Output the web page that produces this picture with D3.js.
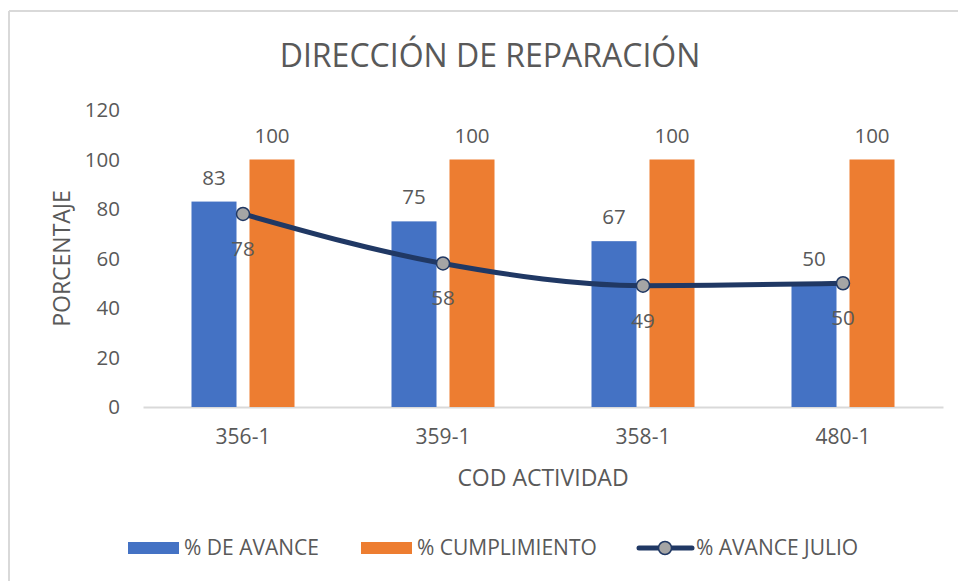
<!DOCTYPE html>
<html lang="es">
<head>
<meta charset="UTF-8">
<title>Dirección de Reparación</title>
<script src="https://d3js.org/d3.v7.min.js"></script>
<style>
  body { margin: 0; background: #fff; }
  text { font-family: "Open Sans", "Liberation Sans", sans-serif; fill: #595959; }
</style>
</head>
<body>
<div id="chart"></div>
<script>
// data
const categories = ["356-1", "359-1", "358-1", "480-1"];
const avance = [83, 75, 67, 50];
const cumplimiento = [100, 100, 100, 100];
const avanceJulio = [78, 58, 49, 50];
const yTicks = [0, 20, 40, 60, 80, 100, 120];
const seriesNames = ["% DE AVANCE", "% CUMPLIMIENTO", "% AVANCE JULIO"];

const width = 958, height = 581;
const margin = {left: 143, right: 15, top: 110, bottom: 174};
const numSize = 20.5;

const svg = d3.select("#chart").append("svg")
    .attr("width", width)
    .attr("height", height);

// chart frame (only top and left edges visible in the crop)
svg.append("line").attr("x1", 9).attr("x2", width).attr("y1", 11).attr("y2", 11)
    .attr("stroke", "#d9d9d9").attr("stroke-width", 2);
svg.append("line").attr("x1", 9).attr("x2", 9).attr("y1", 11).attr("y2", height)
    .attr("stroke", "#d9d9d9").attr("stroke-width", 2);

const x0 = d3.scaleBand()
    .domain(categories)
    .range([margin.left, width - margin.right]);

const x1 = d3.scaleBand()
    .domain(["avance", "cumplimiento"])
    .range([0, x0.bandwidth()])
    .paddingInner(0.224)
    .paddingOuter(0.836);

const y = d3.scaleLinear()
    .domain([0, 120])
    .range([height - margin.bottom, margin.top]);

// title
svg.append("text")
    .attr("x", 490).attr("y", 67)
    .attr("text-anchor", "middle")
    .attr("font-size", 32)
    .text("DIRECCIÓN DE REPARACIÓN");

// y axis labels
const yAxis = svg.append("g")
    .attr("transform", `translate(${margin.left},0)`)
    .call(d3.axisLeft(y).tickValues(yTicks).tickSize(0).tickPadding(23));
yAxis.select(".domain").remove();
yAxis.selectAll("text")
    .attr("font-size", numSize)
    .style("font-family", "'Open Sans', sans-serif")
    .attr("fill", "#595959");

// x axis
const xAxis = svg.append("g")
    .attr("transform", `translate(0,${y(0)})`)
    .call(d3.axisBottom(x0).tickSize(0).tickPadding(22));
xAxis.select(".domain").attr("stroke", "#d9d9d9").attr("stroke-width", 2);
xAxis.selectAll("text")
    .attr("font-size", 21)
    .style("font-family", "'Open Sans', sans-serif")
    .attr("fill", "#595959");

// axis titles
svg.append("text")
    .attr("transform", `translate(70,${(y(0) + y(120)) / 2}) rotate(-90)`)
    .attr("text-anchor", "middle")
    .attr("font-size", 23)
    .text("PORCENTAJE");

svg.append("text")
    .attr("x", (margin.left + width - margin.right) / 2)
    .attr("y", 486)
    .attr("text-anchor", "middle")
    .attr("font-size", 23)
    .text("COD ACTIVIDAD");

const rows = categories.map((c, i) => ({
    cat: c, avance: avance[i], cumplimiento: cumplimiento[i], julio: avanceJulio[i]
}));

const colors = {avance: "#4472c4", cumplimiento: "#ed7d31"};

// bars
const groups = svg.append("g").selectAll("g")
    .data(rows)
    .join("g")
    .attr("transform", d => `translate(${x0(d.cat)},0)`);

["avance", "cumplimiento"].forEach(key => {
    groups.append("rect")
        .attr("x", x1(key))
        .attr("width", x1.bandwidth())
        .attr("y", d => y(d[key]))
        .attr("height", d => y(0) - y(d[key]))
        .attr("fill", colors[key]);

    groups.append("text")
        .attr("x", x1(key) + x1.bandwidth() / 2)
        .attr("y", d => y(d[key]) - 17)
        .attr("text-anchor", "middle")
        .attr("font-size", numSize)
        .text(d => d[key]);
});

// line series
const cx = d => x0(d.cat) + x0.bandwidth() / 2;
const line = d3.line()
    .x(cx)
    .y(d => y(d.julio))
    .curve(d3.curveMonotoneX);

svg.append("path")
    .datum(rows)
    .attr("fill", "none")
    .attr("stroke", "#203864")
    .attr("stroke-width", 5)
    .attr("stroke-linecap", "round")
    .attr("d", line);

svg.append("g").selectAll("circle")
    .data(rows)
    .join("circle")
    .attr("cx", cx)
    .attr("cy", d => y(d.julio))
    .attr("r", 6.5)
    .attr("fill", "#a5a5a5")
    .attr("stroke", "#203864")
    .attr("stroke-width", 1.5);

svg.append("g").selectAll("text")
    .data(rows)
    .join("text")
    .attr("x", cx)
    .attr("y", d => y(d.julio) + 42)
    .attr("text-anchor", "middle")
    .attr("font-size", numSize)
    .text(d => d.julio);

// legend
const legend = svg.append("g").attr("transform", "translate(0,548)");
legend.append("rect").attr("x", 128).attr("y", -6).attr("width", 51).attr("height", 12).attr("fill", colors.avance);
legend.append("text").attr("x", 184).attr("y", 7).attr("font-size", 21).text(seriesNames[0]);
legend.append("rect").attr("x", 361).attr("y", -6).attr("width", 51).attr("height", 12).attr("fill", colors.cumplimiento);
legend.append("text").attr("x", 417).attr("y", 7).attr("font-size", 21).text(seriesNames[1]);
legend.append("line").attr("x1", 639).attr("x2", 692).attr("y1", 0).attr("y2", 0)
    .attr("stroke", "#203864").attr("stroke-width", 5).attr("stroke-linecap", "round");
legend.append("circle").attr("cx", 665).attr("cy", 0).attr("r", 6.5)
    .attr("fill", "#a5a5a5").attr("stroke", "#203864").attr("stroke-width", 1.5);
legend.append("text").attr("x", 696).attr("y", 7).attr("font-size", 21).text(seriesNames[2]);
</script>
</body>
</html>
